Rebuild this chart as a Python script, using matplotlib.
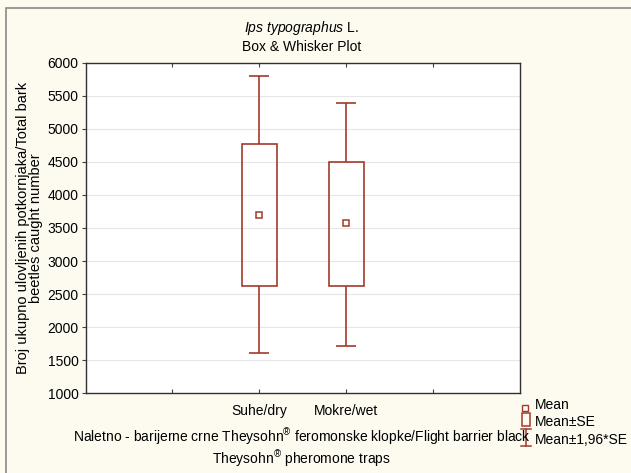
## Box & whisker plot (mean, SE, 1.96*SE) for Ips typographus catches
import matplotlib.pyplot as plt
from matplotlib.patches import Rectangle

categories = ['Suhe/dry', 'Mokre/wet']
positions = [2, 3]
means = [3700, 3570]
se_low = [2620, 2620]
se_high = [4770, 4500]
ci_low = [1600, 1710]
ci_high = [5800, 5400]
y_ticks = [1000, 1500, 2000, 2500, 3000, 3500, 4000, 4500, 5000, 5500, 6000]

plt.rcParams['font.family'] = ['Liberation Sans', 'DejaVu Sans']
plt.rcParams['mathtext.fontset'] = 'custom'
plt.rcParams['mathtext.rm'] = 'Liberation Sans'
plt.rcParams['mathtext.it'] = 'Liberation Sans:italic'
red = '#a23b2c'
bg = '#fdfaf0'
fs = 10

fig = plt.figure(figsize=(6.31, 4.73), dpi=100, facecolor=bg)
ax = fig.add_axes([0.1355, 0.169, 0.6885, 0.698])
ax.set_facecolor('white')

# outer frame (left/top visible, rest cut off by image)
fig.patches.append(Rectangle((6 / 631, -0.1), 1.2, 1 - 8 / 473 + 0.1, transform=fig.transFigure,
                             fill=False, edgecolor='#8a8a8a', linewidth=1.2, zorder=0))

for y in y_ticks[1:-1]:
    ax.axhline(y, color='#e6e6e6', linewidth=0.8, zorder=0)

w = 0.4
cap = 0.23
for i in range(len(categories)):
    x = positions[i]
    ax.bar(x, se_high[i] - se_low[i], bottom=se_low[i], width=w, fill=False,
           edgecolor=red, linewidth=1.2, zorder=3)
    ax.vlines(x, ci_low[i], se_low[i], color=red, linewidth=1.2, zorder=3)
    ax.vlines(x, se_high[i], ci_high[i], color=red, linewidth=1.2, zorder=3)
    ax.hlines([ci_low[i], ci_high[i]], x - cap / 2, x + cap / 2, color=red, linewidth=1.2, zorder=3)
    ax.plot(x, means[i], marker='s', markersize=4.5, mfc='none', mec=red, mew=1.1, zorder=4)

ax.set_xlim(0, 5)
ax.set_ylim(1000, 6000)
ax.set_yticks(y_ticks)
ax.set_xticks([1, 2, 3, 4])
ax.set_xticklabels(['', categories[0], categories[1], ''])
ax.tick_params(axis='x', direction='in', length=3, top=True, labelsize=fs, pad=8, color='#404040')
ax.tick_params(axis='y', direction='out', length=3, labelsize=fs, pad=2, color='#404040')
for s in ax.spines.values():
    s.set_color('#303030')
    s.set_linewidth(1.0)

fig.text(0.478, 0.94, r'$\it{Ips\ typographus}$ L.', ha='center', va='center', fontsize=fs)
fig.text(0.478, 0.901, 'Box & Whisker Plot', ha='center', va='center', fontsize=fs)

ax.set_ylabel('Broj ukupno ulovljenih potkornjaka/Total bark\nbeetles caught number',
              fontsize=10.5, linespacing=0.9, labelpad=3)
fig.text(0.478, 0.076, 'Naletno - barijerne crne Theysohn$^{®}$ feromonske klopke/Flight barrier black',
         ha='center', va='center', fontsize=fs)
fig.text(0.478, 0.03, 'Theysohn$^{®}$ pheromone traps', ha='center', va='center', fontsize=fs)

# legend drawn by hand
tf = fig.transFigure
fig.add_artist(plt.Line2D([525 / 631], [1 - 408 / 473], marker='s', markersize=4.5, mfc='none',
                          mec=red, mew=1.0, transform=tf))
fig.add_artist(Rectangle((522 / 631, 1 - 426 / 473), 8 / 631, 13 / 473, fill=False,
                         edgecolor=red, linewidth=1.1, transform=tf))
fig.add_artist(plt.Line2D([526 / 631] * 2, [1 - 446 / 473, 1 - 429 / 473], color=red, lw=1.1, transform=tf))
fig.add_artist(plt.Line2D([521 / 631, 531 / 631], [1 - 429 / 473] * 2, color=red, lw=1.1, transform=tf))
fig.add_artist(plt.Line2D([521 / 631, 531 / 631], [1 - 446 / 473] * 2, color=red, lw=1.1, transform=tf))
for t, yy in zip(['Mean', 'Mean±SE', 'Mean±1,96*SE'], [405, 422, 440]):
    fig.text(535 / 631, 1 - yy / 473, t, ha='left', va='center', fontsize=fs)

fig.savefig('out.png', dpi=100, facecolor=bg)
